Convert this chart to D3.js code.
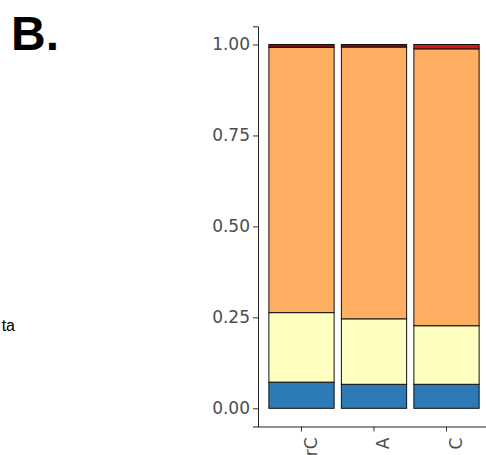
<!DOCTYPE html>
<html>
<head>
<meta charset="utf-8">
<script src="https://cdn.jsdelivr.net/npm/d3@7"></script>
<style>
  html, body { margin: 0; padding: 0; background: #fff; overflow: hidden; }
  svg { display: block; font-family: "Liberation Sans", Arial, sans-serif; }
</style>
</head>
<body>
<svg id="chart" width="486" height="455"></svg>
<script>
// Samples along the x axis
const categories = ["rC", "A", "C"];
// Stacked proportions, bottom to top
const seriesNames = ["blue", "yellow", "orange", "red", "darkred"];
const blueValues    = [0.072, 0.066, 0.066];
const yellowValues  = [0.191, 0.180, 0.161];
const orangeValues  = [0.729, 0.747, 0.761];
const redValues     = [0.000, 0.000, 0.012];
const darkredValues = [0.008, 0.007, 0.000];
const seriesColors = ["#2C7BB6", "#FFFFBF", "#FDAE61", "#D7191C", "#8B0A0A"];
const yTicks = [0, 0.25, 0.5, 0.75, 1];

const table = categories.map((c, i) => ({
  cat: c,
  blue: blueValues[i],
  yellow: yellowValues[i],
  orange: orangeValues[i],
  red: redValues[i],
  darkred: darkredValues[i]
}));

const svg = d3.select("#chart");

const axisX = 258, axisBottom = 426.5;
const tickFont = "DejaVu Sans, Verdana, sans-serif";

const x = d3.scaleBand()
  .domain(categories)
  .range([axisX, 490])
  .paddingInner(0.1)
  .paddingOuter(0.15);

const y = d3.scaleLinear()
  .domain([-0.05, 1.05])
  .range([axisBottom, 26.3]);

const stack = d3.stack().keys(seriesNames);
const layers = stack(table);

const color = d3.scaleOrdinal().domain(seriesNames).range(seriesColors);

// Stacked bars (zero-height pieces are skipped)
svg.append("g")
  .selectAll("g")
  .data(layers)
  .join("g")
  .attr("fill", d => color(d.key))
  .selectAll("rect")
  .data(d => d.filter(p => p[1] - p[0] > 0))
  .join("rect")
  .attr("x", d => x(d.data.cat))
  .attr("width", x.bandwidth())
  .attr("y", d => y(d[1]))
  .attr("height", d => y(d[0]) - y(d[1]))
  .attr("stroke", "#111")
  .attr("stroke-width", 1);

// Y axis
const yAxis = svg.append("g")
  .attr("transform", `translate(${axisX},0)`)
  .call(d3.axisLeft(y).tickValues(yTicks).tickFormat(d3.format(".2f")).tickSize(5).tickPadding(3));
yAxis.select(".domain").attr("stroke", "#222");
yAxis.selectAll(".tick line").attr("stroke", "#333");
yAxis.selectAll(".tick text")
  .attr("fill", "#4D4D4D")
  .attr("font-size", 17)
  .attr("font-family", tickFont);

// X axis
const xAxis = svg.append("g")
  .attr("transform", `translate(0,${axisBottom})`)
  .call(d3.axisBottom(x).tickSize(5).tickSizeOuter(0));
xAxis.select(".domain").attr("stroke", "#222");
xAxis.selectAll(".tick line").attr("stroke", "#333");
xAxis.selectAll(".tick text")
  .attr("fill", "#4D4D4D")
  .attr("font-size", 17)
  .attr("font-family", tickFont)
  .attr("text-anchor", "end")
  .attr("dy", null)
  .attr("y", null)
  .attr("transform", "translate(15,11) rotate(-90)");

// Panel letter
svg.append("text")
  .attr("x", 11)
  .attr("y", 50)
  .attr("font-size", 48)
  .attr("font-weight", "bold")
  .attr("fill", "#000")
  .text("B.");

// Legend text fragment on the left edge
svg.append("text")
  .attr("x", 15)
  .attr("y", 331)
  .attr("text-anchor", "end")
  .attr("font-size", 16)
  .attr("fill", "#000")
  .text("ta");
</script>
</body>
</html>
